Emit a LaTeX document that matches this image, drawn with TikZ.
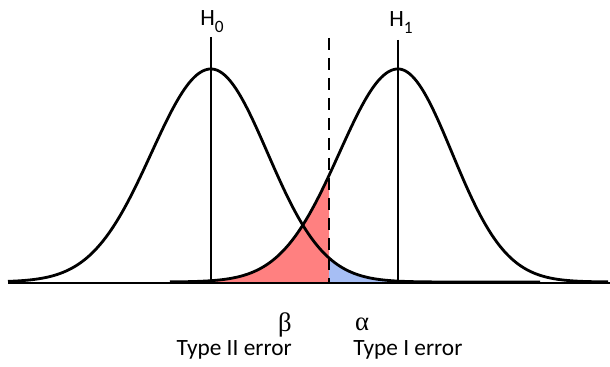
\documentclass[tikz,border=0pt]{standalone}
\usepackage{fontspec}
\setmainfont{Carlito}
\newfontfamily\grk{Liberation Serif}
\definecolor{betared}{RGB}{255,128,128}
\definecolor{alphablue}{RGB}{166,190,244}
\begin{document}
\begin{tikzpicture}[x=0.75pt,y=-0.75pt,
  curve/.style={line width=2.1pt,line join=round},
  vline/.style={line width=2.1pt},
  critline/.style={line width=2.1pt,dash pattern=on 9pt off 6pt},
  lbl/.style={inner sep=0pt,font=\fontsize{17.5}{20}\selectfont},
  grklbl/.style={inner sep=0pt,font=\fontsize{20}{22}\selectfont\grk}]
\useasboundingbox (0,0) rectangle (610,367);
% fills
\fill[betared] plot[domain=180:329,samples=80] (\x,{282-213*exp(-0.5*((\x-398)/58.6)^2)}) -- (329,283) -- (180,283) -- cycle;
\fill[alphablue] (329,{282-213*exp(-0.5*((329-211)/56.5)^2)}) -- plot[domain=329:520,samples=80] (\x,{282-213*exp(-0.5*((\x-211)/56.5)^2)}) -- (520,283) -- (329,283) -- cycle;
% H0 curve
\draw[curve] plot[domain=8:211,samples=100] (\x,{282-213*exp(-0.5*((\x-211)/59.5)^2)})
  -- plot[domain=211:540,samples=120] (\x,{282-213*exp(-0.5*((\x-211)/56.5)^2)});
% H1 curve
\draw[curve] plot[domain=170:398,samples=110] (\x,{282-213*exp(-0.5*((\x-398)/58.6)^2)})
  -- plot[domain=398:608,samples=110] (\x,{282-213*exp(-0.5*((\x-398)/54)^2)});
% labels
\node[lbl,anchor=base west] (h0) at (200,26) {H\raisebox{-5.25pt}{\fontsize{13}{13}\selectfont 0}};
\node[lbl,anchor=base west] (h1) at (389,27) {H\raisebox{-5.25pt}{\fontsize{13}{13}\selectfont 1}};
\node[grklbl,anchor=base] (beta) at (285,331) {β};
\node[grklbl,anchor=base] (alpha) at (362,330) {α};
\node[lbl,anchor=base east] (type2) at (292,355) {Type II error};
\node[lbl,anchor=base west] (type1) at (353,355) {Type I error};
% coordinates
\coordinate (h0top) at (211,37);
\coordinate (h0bot) at (211,283);
\coordinate (h1top) at (398,40);
\coordinate (h1bot) at (398,283);
\coordinate (crtop) at (329,38);
\coordinate (crbot) at (329,283);
\coordinate (axl) at (8,283);
\coordinate (axr) at (610,283);
% lines
\draw[vline] (h0top) -- (h0bot);
\draw[vline] (h1top) -- (h1bot);
\draw[vline] (axl) -- (axr);
\draw[critline] (crtop) -- (crbot);
\end{tikzpicture}
\end{document}
